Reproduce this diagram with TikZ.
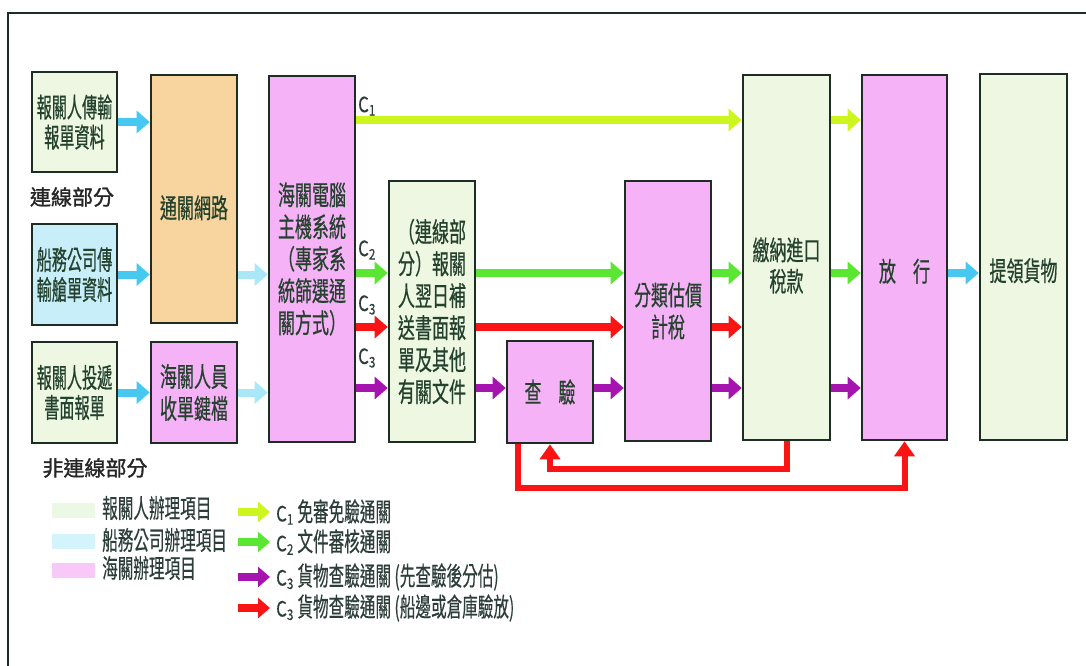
\documentclass[tikz,border=0pt]{standalone}
\usepackage{fontspec}
\newfontfamily\cjk[FakeStretch=0.63,FakeBold=0.5]{Noto Sans CJK TC}
\newfontfamily\cjkn[FakeStretch=0.56,FakeBold=0.5]{Noto Sans CJK TC}
\newfontfamily\cjkl[FakeStretch=0.6,FakeBold=0.4]{Noto Sans CJK TC}
\newfontfamily\cjkc[FakeStretch=0.8,FakeBold=0.3]{Noto Sans CJK TC}
\newfontfamily\cjkb[FakeBold=1.4]{Noto Sans CJK TC}
\newcommand{\csub}[1]{{\cjkc C\textsubscript{#1}}}
\usetikzlibrary{arrows.meta,calc}
\definecolor{bord}{RGB}{30,45,35}
\definecolor{gfill}{RGB}{238,247,225}
\definecolor{pfill}{RGB}{246,178,246}
\definecolor{bfill}{RGB}{200,238,250}
\definecolor{ofill}{RGB}{248,212,158}
\definecolor{txt}{RGB}{35,65,45}
\definecolor{ltxt}{RGB}{45,62,58}
\definecolor{limec}{RGB}{205,245,30}
\definecolor{grnc}{RGB}{90,230,50}
\definecolor{redc}{RGB}{250,20,20}
\definecolor{purc}{RGB}{165,20,175}
\definecolor{cyc}{RGB}{70,200,240}
\definecolor{cylc}{RGB}{170,232,248}
\definecolor{swg}{RGB}{236,248,230}
\definecolor{swb}{RGB}{210,244,250}
\definecolor{swp}{RGB}{248,200,248}
\tikzset{
  box/.style={draw=bord, line width=2.6pt, minimum width=86pt, text=txt,
    font={\cjk\fontsize{27pt}{32pt}\selectfont}, align=center, inner sep=0pt},
  nbox/.style={box, font={\cjkn\fontsize{27pt}{30pt}\selectfont}},
  arr/.style={line width=8pt, -{Triangle[length=13pt,width=22pt]}},
  larr/.style={line width=8pt, -{Triangle[length=12pt,width=20pt]}},
  loopar/.style={line width=6pt, redc, -{Triangle[length=15pt,width=20pt]}},
  clab/.style={anchor=west, inner sep=0pt, text=ltxt, font={\fontsize{21pt}{24pt}\selectfont}},
  legtxt/.style={anchor=west, inner sep=0pt, text=ltxt, font={\cjkl\fontsize{26pt}{28pt}\selectfont}},
  swatch/.style={minimum width=43pt, minimum height=15pt, inner sep=0pt},
  grouplab/.style={inner sep=0pt, text=black!85, font={\cjkb\fontsize{21pt}{24pt}\selectfont}}
}
\begin{document}
\begin{tikzpicture}[x=1pt,y=-1pt]
\useasboundingbox (0,0) rectangle (1086,666);
\fill[white] (0,0) rectangle (1086,666);
\draw[line width=2.5pt, bord] (1086,13) -- (8,13) -- (8,666);

% boxes
\node[nbox, fill=gfill, minimum width=85pt, minimum height=100pt] (A) at (74.5,122) {報關人傳輸\\報單資料};
\node[nbox, fill=bfill, minimum width=85pt, minimum height=101pt] (B) at (74.5,274.5) {船務公司傳\\輸艙單資料};
\node[nbox, fill=gfill, minimum width=85pt, minimum height=101pt] (C) at (74.5,392.5) {報關人投遞\\書面報單};
\node[box, fill=ofill, minimum height=248pt] (D) at (194,199) {\raisebox{-19pt}[0pt][0pt]{通關網路}};
\node[box, fill=pfill, minimum height=101pt] (E) at (194,392.5) {海關人員\\收單鍵檔};
\node[box, fill=pfill, minimum height=366pt] (F) at (312,259) {海關電腦\\主機系統\\（專家系\\統篩選通\\關方式）};
\node[box, fill=gfill, minimum height=261pt] (G) at (432,311.5) {（連線部\\分）報關\\人翌日補\\送書面報\\單及其他\\有關文件};
\node[box, fill=pfill, minimum height=102pt] (H) at (550,392) {查　驗};
\node[box, fill=pfill, minimum height=260pt] (I) at (668,311) {分類估價\\計稅};
\node[box, fill=gfill, minimum width=87pt, minimum height=365pt] (J) at (786.5,257.5) {\raisebox{-18pt}[0pt][0pt]{\begin{tabular}{@{}c@{}}繳納進口\\[-1pt]稅款\end{tabular}}};
\node[box, fill=pfill, minimum width=85pt, minimum height=365pt] (K) at (904.5,257.5) {\raisebox{-24pt}[0pt][0pt]{放　行}};
\node[box, fill=gfill, minimum width=87pt, minimum height=366pt] (L) at (1023.5,257) {\raisebox{-24pt}[0pt][0pt]{提領貨物}};

% group labels
\node[grouplab] (on) at (72,197) {連線部分};
\node[grouplab] (off) at (95,468) {非連線部分};

% rows
\coordinate (r1) at (0,120);
\coordinate (r2) at (0,273);
\coordinate (r3) at (0,327);
\coordinate (r4) at (0,388);

% cyan inputs
\draw[arr, cyc] (A.east) -- (A.east -| D.west);
\draw[arr, cyc] (B.east) -- (B.east -| D.west);
\draw[arr, cyc] (C.east) -- (E.west);
\draw[arr, cylc] (D.east |- B.east) -- (F.west |- B.east);
\draw[arr, cylc] (E.east) -- (E.east -| F.west);

% C1
\draw[arr, limec] (F.east |- r1) -- (J.west |- r1);
\draw[arr, limec] (J.east |- r1) -- (K.west |- r1);
% C2
\draw[arr, grnc] (F.east |- r2) -- (G.west |- r2);
\draw[arr, grnc] (G.east |- r2) -- (I.west |- r2);
\draw[arr, grnc] (I.east |- r2) -- (J.west |- r2);
\draw[arr, grnc] (J.east |- r2) -- (K.west |- r2);
% C3 red
\draw[arr, redc] (F.east |- r3) -- (G.west |- r3);
\draw[arr, redc] (G.east |- r3) -- (I.west |- r3);
\draw[arr, redc] (I.east |- r3) -- (J.west |- r3);
% C3 purple
\draw[arr, purc] (F.east |- r4) -- (G.west |- r4);
\draw[arr, purc] (G.east |- r4) -- (H.west |- r4);
\draw[arr, purc] (H.east |- r4) -- (I.west |- r4);
\draw[arr, purc] (I.east |- r4) -- (J.west |- r4);
\draw[arr, purc] (J.east |- r4) -- (K.west |- r4);
% release to pickup
\draw[arr, cyc] (K.east |- r2) -- (L.west |- r2);

% red loops
\draw[loopar] (J.south) -- ++(0,28) -| (H.south);
\coordinate (hsw) at ($(H.south west)+(12,0)$);
\draw[loopar] (hsw) -- ++(0,44) -| (K.south);

% C labels
\node[clab] (lc1) at (358,106) {\csub{1}};
\node[clab] (lc2) at (358,250) {\csub{2}};
\node[clab] (lc3a) at (358,305) {\csub{3}};
\node[clab] (lc3b) at (358,358) {\csub{3}};

% legend swatches
\node[swatch, fill=swg] (s1) at (73,510) {};
\node[swatch, fill=swb] (s2) at (73,541) {};
\node[swatch, fill=swp] (s3) at (73,570) {};
\node[legtxt] (t1) at (102,508) {報關人辦理項目};
\node[legtxt] (t2) at (102,540) {船務公司辦理項目};
\node[legtxt] (t3) at (102,568) {海關辦理項目};

% legend arrows
\coordinate (la1) at (238,512); \coordinate (lb1) at (270,512);
\coordinate (la2) at (238,542); \coordinate (lb2) at (270,542);
\coordinate (la3) at (238,577); \coordinate (lb3) at (270,577);
\coordinate (la4) at (238,608); \coordinate (lb4) at (270,608);
\draw[larr, limec] (la1) -- (lb1);
\draw[larr, grnc] (la2) -- (lb2);
\draw[larr, purc] (la3) -- (lb3);
\draw[larr, redc] (la4) -- (lb4);
\node[legtxt] (u1) at (276,512) {{\fontsize{21pt}{24pt}\selectfont\csub{1}} 免審免驗通關};
\node[legtxt] (u2) at (276,542) {{\fontsize{21pt}{24pt}\selectfont\csub{2}} 文件審核通關};
\node[legtxt] (u3) at (276,577) {{\fontsize{21pt}{24pt}\selectfont\csub{3}} 貨物查驗通關 (先查驗後分估)};
\node[legtxt] (u4) at (276,608) {{\fontsize{21pt}{24pt}\selectfont\csub{3}} 貨物查驗通關 (船邊或倉庫驗放)};
\end{tikzpicture}
\end{document}
